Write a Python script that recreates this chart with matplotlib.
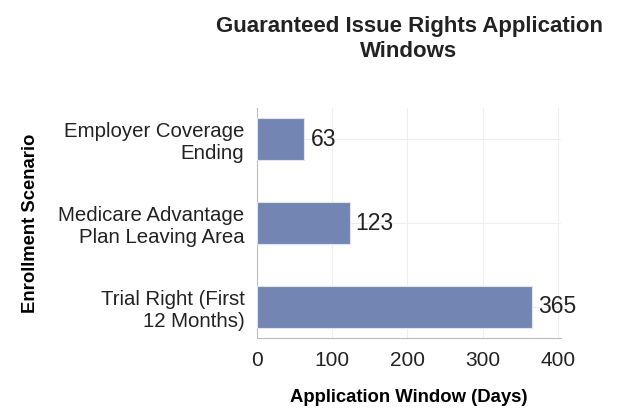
import matplotlib
matplotlib.use("Agg")
import matplotlib.pyplot as plt

plt.rcParams['font.family'] = ['Liberation Sans', 'DejaVu Sans']

categories = ["Trial Right (First\n12 Months)", "Medicare Advantage\nPlan Leaving Area", "Employer Coverage\nEnding"]
values = [365, 123, 63]

fig = plt.figure(figsize=(6.23, 4.19), dpi=100)
ax = fig.add_axes([257/623, 1-338/419, (561-257)/623, (338-108)/419])
bars = ax.barh(categories, values, height=0.5, color='#7385b3', edgecolor='#dfe4f0', linewidth=0.8, zorder=3)
for b, v in zip(bars, values):
    ax.text(v + 8, b.get_y() + b.get_height()/2, str(v), va='center', ha='left', fontsize=16.5, color='#222222')
ax.set_xlim(0, 404)
ax.set_xticks([0, 100, 200, 300, 400])
ax.grid(True, color='#eeeeee', linewidth=0.8, zorder=0)
for s in ['top', 'right']:
    ax.spines[s].set_visible(False)
for s in ['left', 'bottom']:
    ax.spines[s].set_color('#bbbbbb')
ax.tick_params(axis='x', length=0, labelsize=15, colors='#222222', pad=9)
ax.tick_params(axis='y', length=0, labelsize=14.7, colors='#222222', pad=9)
ax.set_xlabel('Application Window (Days)', fontsize=13.3, fontweight='bold', labelpad=14)
ax.set_ylabel('Enrollment Scenario', fontsize=13.3, fontweight='bold', labelpad=14)
ax.set_title('Guaranteed Issue Rights Application\nWindows', fontsize=16, fontweight='bold', color='#222222', pad=37)
fig.savefig('out.png', dpi=100)
